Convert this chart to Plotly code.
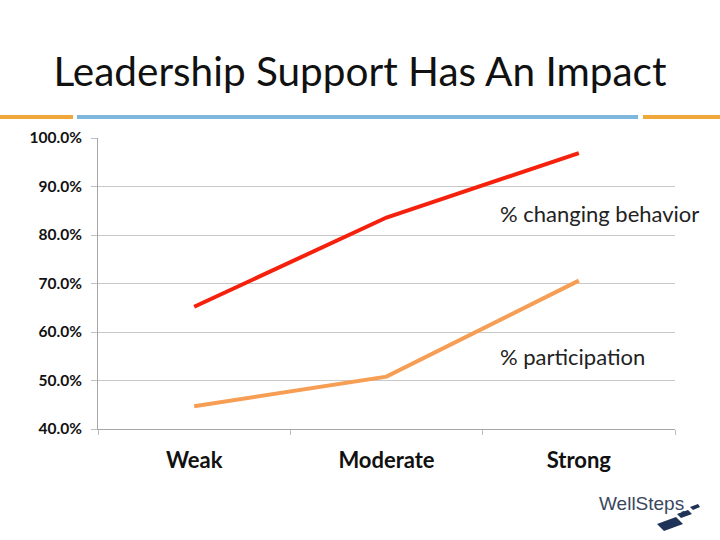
import plotly.graph_objects as go

categories = ["Weak", "Moderate", "Strong"]
changing_behavior = [0.652, 0.836, 0.969]
participation = [0.447, 0.508, 0.706]
y_ticks = [0.4, 0.5, 0.6, 0.7, 0.8, 0.9, 1.0]

FONT = "Lato, Open Sans, sans-serif"

fig = go.Figure()
fig.add_trace(go.Scatter(x=categories, y=participation, mode="lines",
                         line=dict(color="#F79E55", width=4), name="% participation"))
fig.add_trace(go.Scatter(x=categories, y=changing_behavior, mode="lines",
                         line=dict(color="#F5210C", width=4), name="% changing behavior"))

fig.update_layout(
    width=720, height=540,
    margin=dict(l=98, r=45, t=138, b=111),
    paper_bgcolor="white", plot_bgcolor="white",
    showlegend=False,
    title=dict(text="Leadership Support Has An Impact", x=0.5, xanchor="center",
               y=1 - 72 / 540, yanchor="middle",
               font=dict(family=FONT, size=40.5, color="#111111")),
    xaxis=dict(type="category", range=[-0.5, 2.5], tickson="boundaries",
               ticks="outside", ticklen=5, tickcolor="#BFBFBF",
               ticklabelstandoff=12,
               showline=True, linecolor="#A6A6A6", linewidth=1, showgrid=False,
               tickfont=dict(family=FONT, size=22, color="#111111", weight="bold")),
    yaxis=dict(range=[0.4, 1.0], tickvals=y_ticks, tickformat=".1%",
               ticks="outside", ticklen=6, tickcolor="#BFBFBF",
               ticklabelstandoff=6,
               showline=True, linecolor="#A6A6A6", linewidth=1,
               showgrid=True, gridcolor="#C8C8C8", gridwidth=1, zeroline=False,
               tickfont=dict(family=FONT, size=15.5, color="#111111", weight="bold")),
)

fig.add_annotation(x=(498 - 98) / 577, y=(429 - 213) / 291, xref="paper", yref="paper",
                   text="% changing behavior", showarrow=False, xanchor="left", yanchor="middle",
                   font=dict(family=FONT, size=22, color="#222222"))
fig.add_annotation(x=(498 - 98) / 577, y=(429 - 356) / 291, xref="paper", yref="paper",
                   text="% participation", showarrow=False, xanchor="left", yanchor="middle",
                   font=dict(family=FONT, size=22, color="#222222"))

# decorative header bars
yb = 1 + (138 - 117) / 291
fig.add_shape(type="line", xref="paper", yref="paper", x0=-98/577, x1=(73-98)/577,
              y0=yb, y1=yb, line=dict(color="#F0A83A", width=4))
fig.add_shape(type="line", xref="paper", yref="paper", x0=(77-98)/577, x1=(638-98)/577,
              y0=yb, y1=yb, line=dict(color="#7DB7DD", width=4))
fig.add_shape(type="line", xref="paper", yref="paper", x0=(643-98)/577, x1=(720-98)/577,
              y0=yb, y1=yb, line=dict(color="#F0A83A", width=4))

# logo
fig.add_annotation(x=(641-98)/577, y=-(503-429)/291, xref="paper", yref="paper",
                   text="WellSteps", showarrow=False, xanchor="center", yanchor="middle",
                   font=dict(family="Liberation Sans, Arial, sans-serif", size=19, color="#3A4760"))

def px(x, y):
    return (x - 98) / 577, -(y - 429) / 291

def quad(pts):
    coords = [px(x, y) for x, y in pts]
    return "M {} {} L {} {} L {} {} L {} {} Z".format(*[c for p in coords for c in p])

for pts in [
    [(657, 524), (676, 517), (683, 524), (664, 531)],
    [(677, 514), (688, 510), (692, 514), (681, 518)],
    [(690, 507), (698, 504), (700, 507), (693, 510)],
    [(681, 512), (684, 511), (686, 513), (683, 514)],
]:
    fig.add_shape(type="path", xref="paper", yref="paper", path=quad(pts),
                  fillcolor="#1F3358", line=dict(width=0))

fig.write_html("out.html")
